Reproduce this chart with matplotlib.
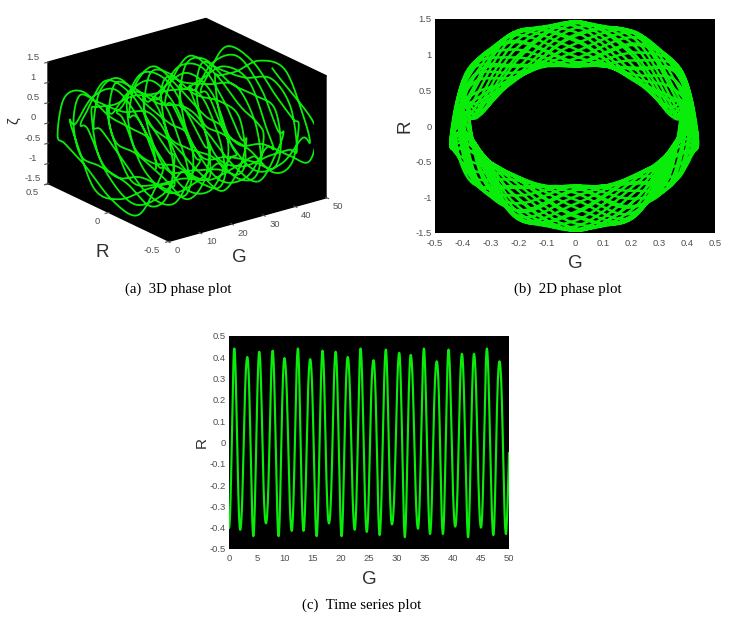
import numpy as np
import matplotlib
matplotlib.use("Agg")
import matplotlib.pyplot as plt

# Extremes of R: time (G axis) and value
ext_t = [0, .95, 2.0, 3.27, 4.35, 5.4, 6.6, 7.8, 8.85, 9.9, 11.2, 12.3, 13.3, 14.5, 15.65, 16.7, 17.85, 19.05,
         20.1, 21.2, 22.45, 23.5, 24.6, 25.8, 26.9, 28, 29.1, 30.4, 31.4, 32.45, 33.75, 34.8, 35.9, 37.1, 38.2,
         39.2, 40.4, 41.6, 42.7, 43.75, 45, 46.05, 47.2, 48.3, 49.45]
ext_r = [-.40, .44, -.41, .40, -.44, .425, -.38, .43, -.44, .395, -.415, .44, -.415, .39, -.44, .43, -.38, .425,
         -.44, .40, -.41, .44, -.42, .385, -.435, .435, -.385, .42, -.445, .41, -.405, .44, -.43, .38, -.43,
         .435, -.395, .415, -.445, .415, -.40, .44, -.435, .38, -.43]
end_t, end_r, end_zeta = 50, -.05, 1.05

# zeta at each R extreme (estimated from panel b)
ext_zeta = [.16, -.235, .161, .147, -.242, -.013, .249, -.124, -.181, .224, .057, -.255, .083, .209, -.199, -.10,
            .254, -.04, -.232, .168, .139, -.244, -.004, .247, -.132, -.174, .228, .049, -.255, .092, .204, -.204,
            -.092, .255, -.049, -.228, .174, .132, -.247, .004, .244, -.139, -.168, .232, .04]
# |zeta| within each half cycle, estimated: close to either extreme, part way in, at R = 0, part way out
zeta_edge = [.772, .37, .14, .34, .762, .744, .31, .15, .41, .786, .71, .27, .16, .48, .802, .67, .22, .18,
             .54, .809, .626, .20, .21, .60, .809, .53, .17, .24, .65, .799, .47, .15, .28, .70, .782,
             .40, .14, .32, .751, .757, .33, .14, .38, .777]
zeta_in = [.836, .686, .985, 1.3, 1.175, .79, .704, 1.04, 1.313, 1.126, .751, .731, 1.095, 1.316, 1.073, .719, .766,
           1.146, 1.309, 1.018, .695, .808, 1.193, 1.293, .962, .681, .856, 1.234, 1.267, .908, .676, .908, 1.267,
           1.234, .856, .681, .962, 1.293, 1.193, .808, .695, 1.018, 1.309, 1.146]
zeta_mid = [.873, 1.227, 1.47, 1.249, .885, .905, 1.28, 1.467, 1.194, .858, .944, 1.329, 1.454, 1.139, .84, .99,
            1.372, 1.433, 1.083, .831, 1.041, 1.409, 1.402, 1.03, .832, 1.094, 1.438, 1.364, .98, .842, 1.15, 1.458,
            1.32, .936, .862, 1.206, 1.468, 1.27, .898, .891, 1.259, 1.469, 1.217, .867]
zeta_out = [1.156, 1.306, 1.007, .692, .817, 1.202, 1.288, .952, .679, .866, 1.241, 1.261, .897, .676, .919, 1.273,
            1.226, .846, .683, .974, 1.297, 1.184, .799, .699, 1.03, 1.311, 1.136, .758, .725, 1.084, 1.316, 1.084,
            .725, .758, 1.136, 1.311, 1.03, .699, .799, 1.184, 1.297, .974, .683, .846]

g_ticks_c = list(range(0, 55, 5))
r_ticks_c = [-.5, -.4, -.3, -.2, -.1, 0, .1, .2, .3, .4, .5]
x_ticks_b = r_ticks_c
y_ticks_b = [-1.5, -1, -.5, 0, .5, 1, 1.5]
g_ticks_a = [0, 10, 20, 30, 40, 50]
r_ticks_a = [-.5, 0, .5]
captions = ["(a)  3D phase plot", "(b)  2D phase plot", "(c)  Time series plot"]

W, H = 735, 619
GREEN = "#0aec0a"
GRAY = "#505050"
LABEL = "#303030"
SANS = ["Liberation Sans", "DejaVu Sans"]
SERIF = "Liberation Serif"


def fmt(v):
    return f"{v:g}"


def bez(p0, c0, c1, p1, n=12):
    s = np.linspace(0, 1, n, endpoint=False)[:, None]
    return ((1 - s) ** 3 * p0 + 3 * (1 - s) ** 2 * s * c0 + 3 * (1 - s) * s ** 2 * c1 + s ** 3 * p1)


def spline(nodes, vertical):
    """Smooth drawing of a node list; vertical marks nodes with an upright tangent."""
    P = np.array(nodes, float)
    T = np.zeros_like(P)
    T[1:-1] = (P[2:] - P[:-2]) / 2
    T[0] = P[1] - P[0]
    T[-1] = P[-1] - P[-2]
    for i in range(len(P)):
        if vertical[i]:
            T[i, 0] = 0
    return [bez(P[i], P[i] + T[i] / 3, P[i + 1] - T[i + 1] / 3, P[i + 1]) for i in range(len(P) - 1)]


# phase trajectory built from the nodes
nodes, vert, gnodes = [], [], []
for k in range(len(zeta_mid)):
    sg = 1 if k % 2 == 0 else -1
    t0, t1 = ext_t[k], ext_t[k + 1]
    r0, r1 = ext_r[k], ext_r[k + 1]
    inner = [(r0 * .866, zeta_edge[k]), (r0 * .5, zeta_in[k]), (0.0, zeta_mid[k]), (r1 * .5, zeta_out[k]),
             (r1 * .866, zeta_edge[k])]
    nodes.append((r0, ext_zeta[k])); vert.append(True); gnodes.append(t0)
    for j, (rv, zv) in enumerate(inner):
        nodes.append((rv, sg * zv)); vert.append(False); gnodes.append(t0 + (j + 1) / 6 * (t1 - t0))
nodes.append((ext_r[44], ext_zeta[44])); vert.append(True); gnodes.append(ext_t[44])
nodes.append((end_r, end_zeta)); vert.append(False); gnodes.append(end_t)
segs = spline(nodes, vert)
RZ = np.vstack(segs + [np.array([nodes[-1]])])
G = np.concatenate([np.linspace(gnodes[i], gnodes[i + 1], len(segs[i]), endpoint=False) for i in range(len(segs))]
                   + [[end_t]])

# time series: rounder crests where the amplitude is low
ts = []
tt = ext_t + [end_t]
rr = ext_r + [end_r]
for i in range(len(tt) - 1):
    dt = tt[i + 1] - tt[i]
    p0 = np.array([tt[i], rr[i]]); p1 = np.array([tt[i + 1], rr[i + 1]])
    h0 = .34 + (.44 - abs(rr[i])) * 2.4
    h1 = .34 + (.44 - abs(rr[i + 1])) * 2.4
    c0 = np.array([tt[i] + h0 * dt, rr[i]])
    c1 = np.array([tt[i + 1] - h1 * dt, rr[i + 1]]) if i < len(tt) - 2 else p1
    ts.append(bez(p0, c0, c1, p1, 24))
ts = np.vstack(ts + [np.array([[tt[-1], rr[-1]]])])

fig = plt.figure(figsize=(W / 100, H / 100), dpi=100, facecolor="white")


def rect(x0, y0, x1, y1):
    return [x0 / W, 1 - y1 / H, (x1 - x0) / W, (y1 - y0) / H]


def style2d(ax, pad):
    ax.set_facecolor("black")
    for s in ax.spines.values():
        s.set_visible(False)
    ax.tick_params(colors=GRAY, labelsize=6.8, length=0, pad=2.5)
    ax.tick_params(axis="x", pad=pad)
    for t in ax.get_xticklabels() + ax.get_yticklabels():
        t.set_family(SANS)


# (b)
axb = fig.add_axes(rect(435, 19, 714.7, 233))
axb.plot(RZ[:, 0], RZ[:, 1], color=GREEN, lw=1.8)
axb.set_xlim(-.5, .5); axb.set_ylim(-1.5, 1.5)
axb.set_xticks(x_ticks_b, [fmt(v) for v in x_ticks_b])
axb.set_yticks(y_ticks_b, [fmt(v) for v in y_ticks_b])
style2d(axb, 4.5)
axb.set_xlabel("G", fontsize=13.5, family=SANS, color=LABEL, labelpad=5)
axb.set_ylabel("R", fontsize=13.5, family=SANS, color=LABEL, labelpad=1)

# (c)
axc = fig.add_axes(rect(229, 335.7, 509, 549))
axc.plot(ts[:, 0], ts[:, 1], color=GREEN, lw=1.55)
axc.set_xlim(0, 50); axc.set_ylim(-.5, .5)
axc.set_xticks(g_ticks_c, [fmt(v) for v in g_ticks_c])
axc.set_yticks(r_ticks_c, [fmt(v) for v in r_ticks_c])
style2d(axc, 3.5)
axc.set_xlabel("G", fontsize=13.5, family=SANS, color=LABEL, labelpad=6)
axc.set_ylabel("R", fontsize=11, family=SANS, color=LABEL, labelpad=0)

# (a)
axa = fig.add_axes(rect(16, 3.5, 351, 263.5), projection="3d", proj_type="ortho")
axa.patch.set_alpha(0)
axa.view_init(elev=21.3, azim=-127.3)
axa.set_box_aspect((200, 200, 131), zoom=1.16)
axa.plot(G, RZ[:, 0], RZ[:, 1], color=GREEN, lw=1.3)
axa.set_xlim(0, 50, view_margin=0); axa.set_ylim(-.5, .5, view_margin=0); axa.set_zlim(-1.5, 1.5, view_margin=0)
axa.set_xticks(g_ticks_a); axa.set_yticks(r_ticks_a, [fmt(v) for v in r_ticks_a])
axa.set_zticks(y_ticks_b, [fmt(v) for v in y_ticks_b])
axa.grid(False)
for a, ha, va in ((axa.xaxis, "left", "center"), (axa.yaxis, "right", "center"), (axa.zaxis, "center", "bottom")):
    a.set_pane_color("black")
    a.pane.set_edgecolor("black")
    a.line.set_color((0, 0, 0, 0))
    a.set_tick_params(colors=GRAY, labelsize=6.8, pad=-3)
    a._axinfo["tick"]["color"] = GRAY
    for t in a.get_ticklabels():
        t.set_family(SANS)
        t.set_ha(ha)
        t.set_va(va)
axa.zaxis.set_ticks_position("upper")
fig.text(102 / W, 1 - 253 / H, "R", fontsize=13.5, family=SANS, color=LABEL, ha="center", va="center")
fig.text(239 / W, 1 - 257 / H, "G", fontsize=13.5, family=SANS, color=LABEL, ha="center", va="center")
fig.text(14 / W, 1 - 121 / H, "ζ", fontsize=11, family=SANS, color=LABEL, ha="center", va="center", rotation=90)

for x, y, s in zip([178, 568, 362], [289, 289, 605], captions):
    fig.text(x / W, 1 - y / H, s, family=SERIF, fontsize=10.7, ha="center", va="center", color="black")

fig.savefig("out.png", dpi=100)
